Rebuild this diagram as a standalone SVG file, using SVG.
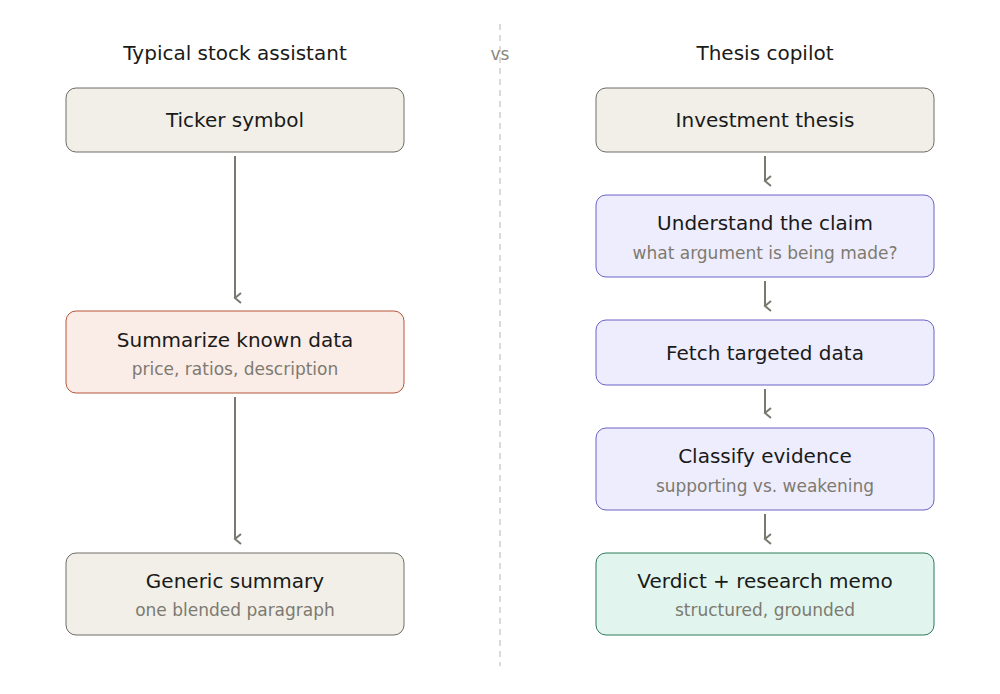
<svg xmlns="http://www.w3.org/2000/svg" width="1000" height="694" viewBox="0 0 1000 694">
<style>
text{font-family:"DejaVu Sans",sans-serif;text-anchor:middle}
.h{font-size:20px;fill:#1a1a18}
.t{font-size:20px;fill:#1a1a18}
.s{font-size:17px;fill:#7d7a70}
.n{fill:#f1efe8;stroke:#6e6c66;stroke-width:1}
.r{fill:#faece7;stroke:#b5573a;stroke-width:1}
.p{fill:#eeedfe;stroke:#6b62c4;stroke-width:1}
.g{fill:#e1f5ee;stroke:#2f7a5a;stroke-width:1}
.c{stroke:#7a7970;stroke-width:2;fill:none;marker-end:url(#a)}
</style>
<defs><marker id="a" viewBox="0 0 12 12" refX="6" refY="10" markerWidth="12" markerHeight="12" markerUnits="userSpaceOnUse" orient="auto-start-reverse"><path d="M1 4 L6 10 L11 4" fill="none" stroke="#7a7970" stroke-width="2"/></marker></defs>
<rect width="1000" height="694" fill="#fff"/>
<line x1="500" y1="24" x2="500" y2="666" stroke="#d0cec8" stroke-width="1.5" stroke-dasharray="6 5"/>
<text class="h" x="235" y="60">Typical stock assistant</text>
<text x="500" y="60" style="font-size:17px;fill:#8a877e">vs</text>
<text class="h" x="765" y="60">Thesis copilot</text>
<g id="connectors">
<path class="c" d="M235 156V298"/><path class="c" d="M235 397V539"/>
<path class="c" d="M765 156V181"/><path class="c" d="M765 281V306"/><path class="c" d="M765 389V413"/><path class="c" d="M765 514V539"/>
</g>
<g id="ticker"><rect class="n" x="66" y="88" width="338" height="64" rx="10"/><text class="t" x="235" y="127">Ticker symbol</text></g>
<g id="summarize"><rect class="r" x="66" y="311" width="338" height="82" rx="10"/><text class="t" x="235" y="347">Summarize known data</text><text class="s" x="235" y="375">price, ratios, description</text></g>
<g id="generic"><rect class="n" x="66" y="553" width="338" height="82" rx="10"/><text class="t" x="235" y="588">Generic summary</text><text class="s" x="235" y="616">one blended paragraph</text></g>
<g id="thesis"><rect class="n" x="596" y="88" width="338" height="64" rx="10"/><text class="t" x="765" y="127">Investment thesis</text></g>
<g id="understand"><rect class="p" x="596" y="195" width="338" height="82" rx="10"/><text class="t" x="765" y="230">Understand the claim</text><text class="s" x="765" y="259">what argument is being made?</text></g>
<g id="fetch"><rect class="p" x="596" y="320" width="338" height="65" rx="10"/><text class="t" x="765" y="360">Fetch targeted data</text></g>
<g id="classify"><rect class="p" x="596" y="428" width="338" height="82" rx="10"/><text class="t" x="765" y="463">Classify evidence</text><text class="s" x="765" y="492">supporting vs. weakening</text></g>
<g id="verdict"><rect class="g" x="596" y="553" width="338" height="82" rx="10"/><text class="t" x="765" y="588">Verdict + research memo</text><text class="s" x="765" y="616">structured, grounded</text></g>
</svg>
